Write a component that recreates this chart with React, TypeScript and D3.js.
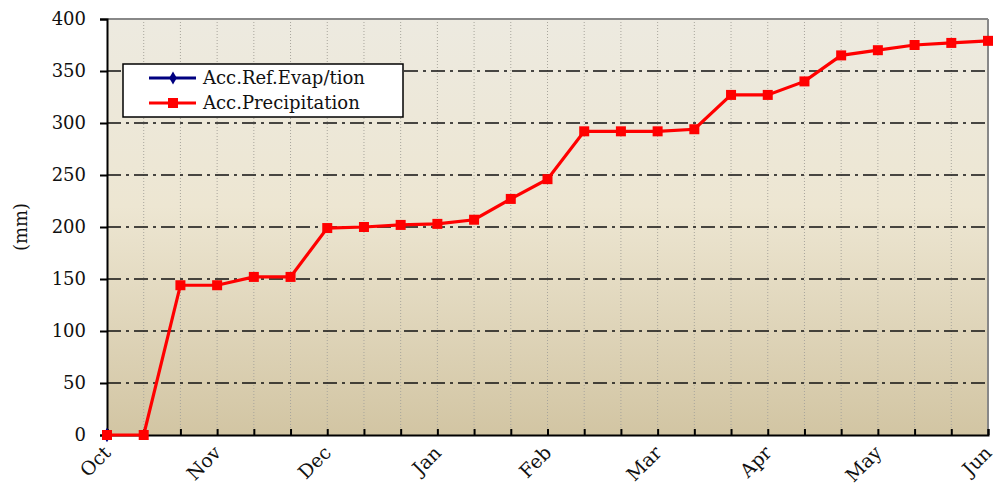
import React, { useEffect, useRef } from 'react';
import * as d3 from 'd3';

// dekad steps, Oct -> Jun
const months = ['Oct', 'Nov', 'Dec', 'Jan', 'Feb', 'Mar', 'Apr', 'May', 'Jun'];
const precip = [0, 0, 144, 144, 152, 152, 199, 200, 202, 203, 207, 227, 246, 292, 292, 292, 294, 327, 327, 340, 365, 370, 375, 377, 379];
const evap = [0];
const yTicks = [0, 50, 100, 150, 200, 250, 300, 350, 400];

const App = () => {
    const ref = useRef<SVGSVGElement>(null);

    useEffect(() => {
        const svg = d3.select(ref.current);
        svg.selectAll('*').remove();

        const W = 1005, H = 488;
        const m = { left: 107, top: 19, right: 17, bottom: 53 };
        const iw = W - m.left - m.right;
        const ih = H - m.top - m.bottom;
        const font = '"DejaVu Serif", serif';

        svg.attr('width', W).attr('height', H);

        const defs = svg.append('defs');
        const grad = defs.append('linearGradient').attr('id', 'bg')
            .attr('x1', 0).attr('y1', 0).attr('x2', 0).attr('y2', 1);
        grad.append('stop').attr('offset', '0%').attr('stop-color', '#edeae0');
        grad.append('stop').attr('offset', '45%').attr('stop-color', '#ede6d2');
        grad.append('stop').attr('offset', '100%').attr('stop-color', '#d2c5a3');

        const x = d3.scaleLinear().domain([0, 24]).range([0, iw]);
        const y = d3.scaleLinear().domain([0, 400]).range([ih, 0]);

        const g = svg.append('g').attr('transform', `translate(${m.left},${m.top})`);

        g.append('rect').attr('width', iw).attr('height', ih).attr('fill', 'url(#bg)');

        // vertical dotted grid
        g.selectAll('.vg').data(d3.range(1, 24)).join('line')
            .attr('x1', d => x(d)).attr('x2', d => x(d))
            .attr('y1', 0).attr('y2', ih)
            .attr('stroke', '#a8a59c').attr('stroke-width', 1)
            .attr('stroke-dasharray', '1,2');

        // horizontal dash-dot grid
        g.selectAll('.hg').data(yTicks.filter(d => d > 0 && d < 400)).join('line')
            .attr('x1', 0).attr('x2', iw)
            .attr('y1', d => y(d)).attr('y2', d => y(d))
            .attr('stroke', '#111').attr('stroke-width', 1.6)
            .attr('stroke-dasharray', '14,5,3,5');

        // top/right frame gray
        g.append('line').attr('x1', 0).attr('x2', iw).attr('y1', 0).attr('y2', 0)
            .attr('stroke', '#888').attr('stroke-width', 2);
        g.append('line').attr('x1', iw).attr('x2', iw).attr('y1', 0).attr('y2', ih)
            .attr('stroke', '#888').attr('stroke-width', 2);

        // y axis
        const yAxis = g.append('g').call(d3.axisLeft(y).tickValues(yTicks).tickSize(7).tickPadding(14));
        yAxis.select('.domain').attr('stroke', '#000').attr('stroke-width', 2);
        yAxis.selectAll('.tick line').attr('stroke', '#000').attr('stroke-width', 2);
        yAxis.selectAll('text').attr('font-family', font).attr('font-size', 18).attr('fill', '#111');

        // x axis, ticks inside
        const xAxis = g.append('g').attr('transform', `translate(0,${ih})`)
            .call(d3.axisBottom(x).tickValues(d3.range(0, 25)).tickSize(-6).tickFormat(() => ''));
        xAxis.select('.domain').attr('stroke', '#000').attr('stroke-width', 2);
        xAxis.selectAll('.tick line').attr('stroke', '#000').attr('stroke-width', 2);

        g.selectAll('.ml').data(months).join('text')
            .attr('transform', (d, i) => `translate(${x(i * 3) + 5},${ih + 19}) rotate(-45)`)
            .attr('text-anchor', 'end')
            .attr('font-family', font).attr('font-size', 19).attr('fill', '#111')
            .text(d => d);

        svg.append('text')
            .attr('transform', `translate(27,${m.top + ih / 2}) rotate(-90)`)
            .attr('text-anchor', 'middle')
            .attr('font-family', font).attr('font-size', 18).attr('fill', '#111')
            .text('(mm)');

        const line = d3.line<number>().x((d, i) => x(i)).y(d => y(d));

        // evap series (only first value)
        g.selectAll('.ev').data(evap).join('path')
            .attr('d', () => d3.symbol().type(d3.symbolDiamond).size(60)())
            .attr('transform', (d, i) => `translate(${x(i)},${y(d)})`)
            .attr('fill', '#000080');

        g.append('path').datum(precip).attr('d', line)
            .attr('fill', 'none').attr('stroke', '#ff0000').attr('stroke-width', 3.2);
        g.selectAll('.pm').data(precip).join('rect')
            .attr('x', (d, i) => x(i) - 5).attr('y', d => y(d) - 5)
            .attr('width', 10).attr('height', 10).attr('fill', '#ff0000');

        // legend
        const lg = svg.append('g').attr('transform', 'translate(123,64)');
        lg.append('rect').attr('width', 280).attr('height', 53)
            .attr('fill', '#fff').attr('stroke', '#000').attr('stroke-width', 1.5);
        const items = [
            { label: 'Acc.Ref.Evap/tion', color: '#000080', shape: 'diamond' },
            { label: 'Acc.Precipitation', color: '#ff0000', shape: 'square' }
        ];
        items.forEach((it, i) => {
            const cy = 14 + i * 25;
            lg.append('line').attr('x1', 26).attr('x2', 73).attr('y1', cy).attr('y2', cy)
                .attr('stroke', it.color).attr('stroke-width', 3);
            if (it.shape === 'diamond') {
                lg.append('path').attr('d', d3.symbol().type(d3.symbolDiamond).size(50)())
                    .attr('transform', `translate(50,${cy})`).attr('fill', it.color);
            } else {
                lg.append('rect').attr('x', 45).attr('y', cy - 5).attr('width', 10).attr('height', 10)
                    .attr('fill', it.color);
            }
            lg.append('text').attr('x', 80).attr('y', cy + 6)
                .attr('font-family', font).attr('font-size', 18).attr('fill', '#111')
                .text(it.label);
        });
    }, []);

    return <svg ref={ref} style={{ position: 'absolute', left: 0, top: 0 }}></svg>;
};

export default App;
